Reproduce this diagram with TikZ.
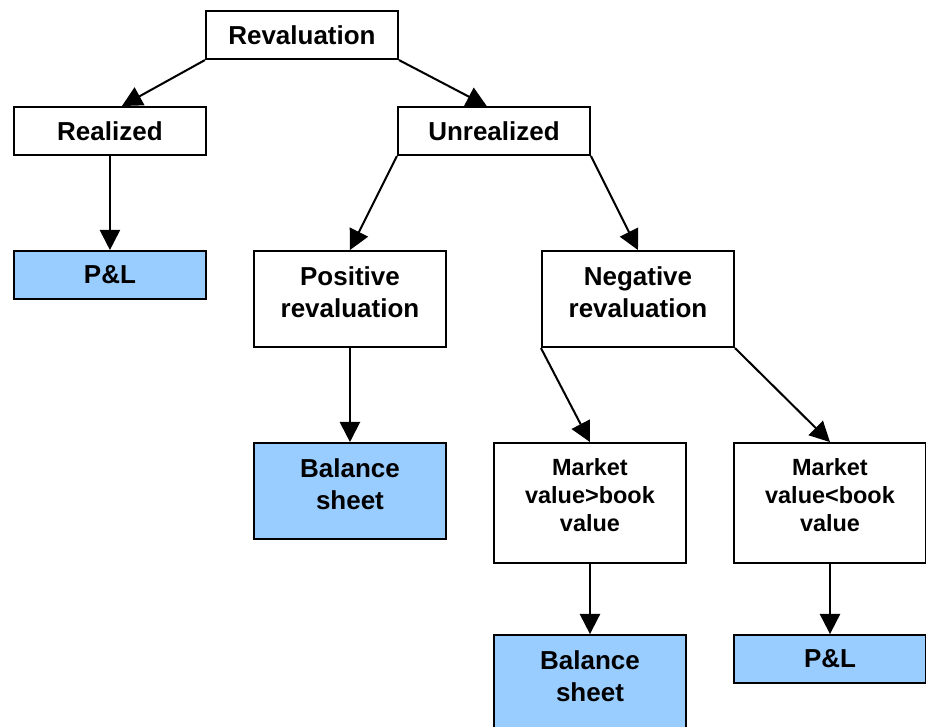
\documentclass[tikz,border=0pt]{standalone}
\usepackage{fontspec}
\setmainfont{Liberation Sans}
\usepackage{xcolor}
\usetikzlibrary{arrows.meta,positioning}
\definecolor{resblue}{HTML}{99CCFF}
\newcommand{\lowpad}[1]{\rule[-#1]{0pt}{#1}}
\tikzset{
  box/.style={rectangle, draw, line width=1.2pt, minimum width=4cm, minimum height=1cm,
              inner sep=0pt, align=center, font=\bfseries\fontsize{15.4}{19}\selectfont},
  tallbox/.style={box, minimum height=2cm},
  mktbox/.style={box, minimum height=2.5cm, font=\bfseries\fontsize{13.9}{16.6}\selectfont},
  res/.style={fill=resblue},
  arr/.style={-{Triangle[length=0.42cm,width=0.42cm]}, line width=1.2pt}
}
\begin{document}
\begin{tikzpicture}
  \useasboundingbox (-0.29,0.23) rectangle (19.0,-14.895);
  \node[box] (rev) at (6,-0.5) {Revaluation};
  \node[box] (real) at (2,-2.5) {Realized};
  \node[box] (unreal) at (10,-2.5) {Unrealized};
  \node[box, res] (pl1) at (2,-5.5) {P\&L};
  \node[tallbox] (pos) at (7,-6) {Positive\\revaluation\lowpad{0.28cm}};
  \node[tallbox] (neg) at (13,-6) {Negative\\revaluation\lowpad{0.28cm}};
  \node[tallbox, res] (bs1) at (7,-10) {Balance\\sheet\lowpad{0.28cm}};
  \node[mktbox] (mgt) at (12,-10.25) {Market\\value>book\\value\lowpad{0.35cm}};
  \node[mktbox] (mlt) at (17,-10.25) {Market\\value<book\\value\lowpad{0.35cm}};
  \node[tallbox, res] (bs2) at (12,-14) {Balance\\sheet\lowpad{0.28cm}};
  \node[box, res] (pl2) at (17,-13.5) {P\&L};
  \draw[arr] (rev.south west) -- ([xshift=0.25cm]real.north);
  \draw[arr] (rev.south east) -- ([xshift=-0.15cm]unreal.north);
  \draw[arr] (unreal.south west) -- (pos.north);
  \draw[arr] (unreal.south east) -- (neg.north);
  \draw[arr] (neg.south west) -- (mgt.north);
  \draw[arr] (neg.south east) -- (mlt.north);
  \foreach \a/\b in {real/pl1, pos/bs1, mgt/bs2, mlt/pl2} \draw[arr] (\a) -- (\b);
\end{tikzpicture}
\end{document}
